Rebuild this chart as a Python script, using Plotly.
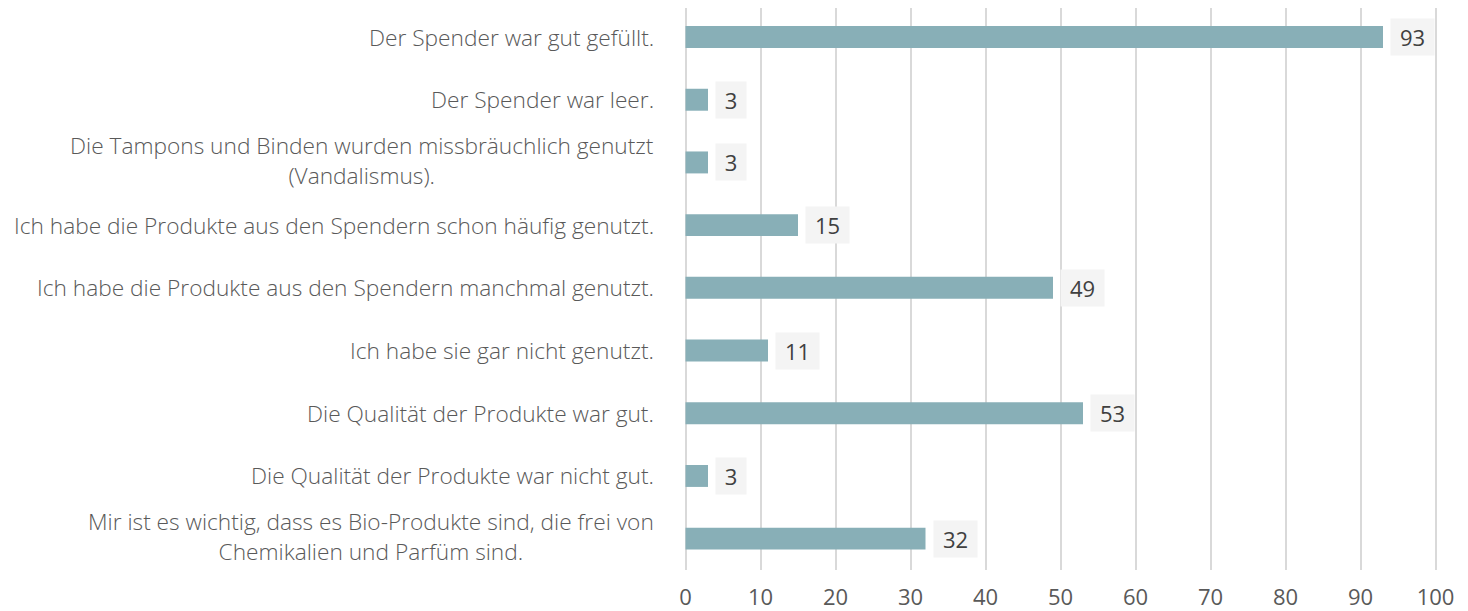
import plotly.graph_objects as go

categories = [
    "Der Spender war gut gefüllt.",
    "Der Spender war leer.",
    "Die Tampons und Binden wurden missbräuchlich genutzt<br>(Vandalismus).",
    "Ich habe die Produkte aus den Spendern schon häufig genutzt.",
    "Ich habe die Produkte aus den Spendern manchmal genutzt.",
    "Ich habe sie gar nicht genutzt.",
    "Die Qualität der Produkte war gut.",
    "Die Qualität der Produkte war nicht gut.",
    "Mir ist es wichtig, dass es Bio-Produkte sind, die frei von<br>Chemikalien und Parfüm sind.",
]
values = [93, 3, 3, 15, 49, 11, 53, 3, 32]
x_ticks = [0, 10, 20, 30, 40, 50, 60, 70, 80, 90, 100]

pos = list(range(len(categories)))

fig = go.Figure()
fig.add_trace(go.Bar(
    y=pos, x=values, orientation="h", width=0.35,
    marker=dict(color="#88afb7", line=dict(width=0)),
    hoverinfo="skip",
))

label_font = dict(family="Open Sans", size=22.7, color="#595959", weight=300)
annotations = []
for p, c in zip(pos, categories):
    multi = "<br>" in c
    annotations.append(dict(
        x=0, xref="paper", y=p, yref="y", text=c, showarrow=False,
        xanchor="right", yanchor="middle", align="center",
        xshift=-28, yshift=2 if multi else 0, font=label_font,
    ))

for p, v in zip(pos, values):
    annotations.append(dict(
        x=v, xref="x", y=p, yref="y", text=str(v), showarrow=False,
        xanchor="left", yanchor="middle", xshift=7,
        bgcolor="#f4f4f4", borderpad=3, width=11 + 13 * len(str(v)), height=30,
        font=dict(family="Open Sans", size=22, color="#404040"),
    ))

fig.update_layout(
    width=1452, height=603,
    margin=dict(l=676, r=23, t=0, b=41, autoexpand=False),
    paper_bgcolor="white", plot_bgcolor="white",
    showlegend=False,
    annotations=annotations,
    xaxis=dict(
        range=[-0.2, 100.2], tickvals=x_ticks, ticktext=[str(t) for t in x_ticks],
        showgrid=True, gridcolor="#d9d9d9", gridwidth=2,
        zeroline=False, showline=False, ticks="", automargin=False,
        tickfont=dict(family="Open Sans", size=22, color="#595959"),
        ticklabelstandoff=12,
    ),
    yaxis=dict(
        range=[8.5, -0.463], automargin=False,
        showticklabels=False, showgrid=False, zeroline=False, showline=False,
    ),
)

fig.write_html("out.html")
